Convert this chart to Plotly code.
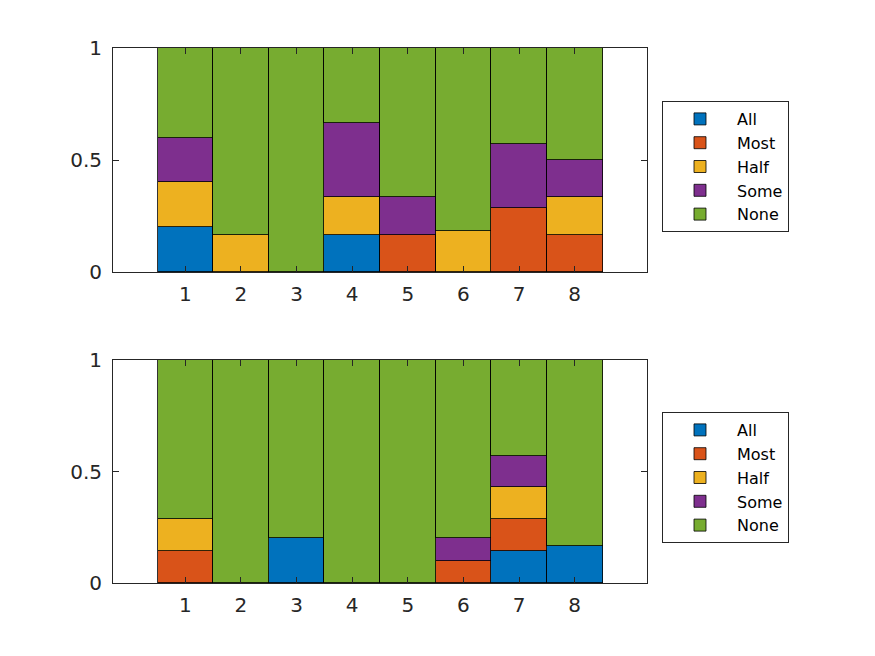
import plotly.graph_objects as go

categories = [1, 2, 3, 4, 5, 6, 7, 8]
series_names = ["All", "Most", "Half", "Some", "None"]
colors = ["#0072BD", "#D95319", "#EDB120", "#7E2F8E", "#77AC30"]

top_all  = [0.2, 0, 0, 1/6, 0, 0, 0, 0]
top_most = [0, 0, 0, 0, 1/6, 0, 2/7, 1/6]
top_half = [0.2, 1/6, 0, 1/6, 0, 2/11, 0, 1/6]
top_some = [0.2, 0, 0, 1/3, 1/6, 0, 2/7, 1/6]
top_none = [0.4, 5/6, 1, 1/3, 2/3, 9/11, 3/7, 0.5]

bot_all  = [0, 0, 0.2, 0, 0, 0, 1/7, 1/6]
bot_most = [1/7, 0, 0, 0, 0, 0.1, 1/7, 0]
bot_half = [1/7, 0, 0, 0, 0, 0, 1/7, 0]
bot_some = [0, 0, 0, 0, 0, 0.1, 1/7, 0]
bot_none = [5/7, 1, 0.8, 1, 1, 0.8, 3/7, 5/6]

top_series = [top_all, top_most, top_half, top_some, top_none]
bot_series = [bot_all, bot_most, bot_half, bot_some, bot_none]

fig = go.Figure()
for name, col, vals in zip(series_names, colors, top_series):
    fig.add_trace(go.Bar(x=categories, y=vals, name=name, marker_color=col,
                         marker_line=dict(color="black", width=0.8), width=1,
                         xaxis="x", yaxis="y", legend="legend"))
for name, col, vals in zip(series_names, colors, bot_series):
    fig.add_trace(go.Bar(x=categories, y=vals, name=name, marker_color=col,
                         marker_line=dict(color="black", width=0.8), width=1,
                         xaxis="x2", yaxis="y2", legend="legend2"))

W, H = 875, 656
OFF = 8  # page body margin offset
axcol = "#262626"
font = dict(family="DejaVu Sans", size=20, color=axcol)
xdom = [(113 - OFF) / W, (647 - OFF) / W]
common_x = dict(range=[-0.3, 9.3], tickvals=categories, ticktext=[str(c) for c in categories],
                ticks="inside", ticklen=6, tickcolor=axcol, showline=True, linecolor=axcol,
                linewidth=1, mirror="ticks", showgrid=False, zeroline=False, domain=xdom,
                tickfont=font, fixedrange=True, automargin=False, ticklabelstandoff=4)
common_y = dict(range=[0, 1], tickvals=[0, 0.5, 1], ticktext=["0", "0.5", "1"],
                ticks="inside", ticklen=6, tickcolor=axcol, showline=True, linecolor=axcol,
                linewidth=1, mirror="ticks", showgrid=False, zeroline=False,
                tickfont=font, fixedrange=True, automargin=False, ticklabelstandoff=6)

legend_common = dict(font=dict(family="DejaVu Sans", size=16, color="black"),
                     bgcolor="white", bordercolor=axcol, borderwidth=1, itemwidth=64,
                     traceorder="normal", xanchor="left", yanchor="top")

fig.update_layout(
    width=W, height=H, barmode="stack", bargap=0, autosize=False,
    paper_bgcolor="white", plot_bgcolor="white",
    margin=dict(l=0, r=0, t=0, b=0, autoexpand=False),
    xaxis=dict(common_x, anchor="y"),
    yaxis=dict(common_y, domain=[1 - (272 - OFF) / H, 1 - (48 - OFF) / H], anchor="x"),
    xaxis2=dict(common_x, anchor="y2"),
    yaxis2=dict(common_y, domain=[1 - (583 - OFF) / H, 1 - (360 - OFF) / H], anchor="x2"),
    legend=dict(legend_common, x=(662 - OFF) / W, y=1 - (101 - OFF) / H),
    legend2=dict(legend_common, x=(662 - OFF) / W, y=1 - (412 - OFF) / H),
    font=font,
)

fig.write_html("out.html")
